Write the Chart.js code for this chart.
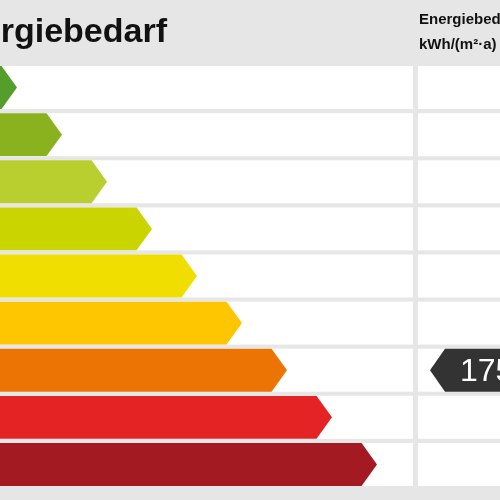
<!DOCTYPE html>
<html>
<head>
<meta charset="utf-8">
<script src="https://cdn.jsdelivr.net/npm/chart.js@4"></script>
<style>
  html, body { margin: 0; padding: 0; background: #e6e6e6; }
  #wrap { width: 500px; height: 500px; }
</style>
</head>
<body>
<div id="wrap"><canvas id="c" width="500" height="500"></canvas></div>
<script>
/* ================= DATA ================= */
const classes = ['A+', 'A', 'B', 'C', 'D', 'E', 'F', 'G', 'H'];
const arrowLengths = [17, 62, 107, 152, 197, 242, 287, 332, 377];
const classColors = ['#559e2b', '#8ab21f', '#b9cf30', '#c9d400', '#f0de00', '#fdc600', '#ec7405', '#e42424', '#a31a22'];
const markerClass = 'F';
const markerValue = '175';
const titleText = 'Energiebedarf';
const unitLines = ['Energiebedarf', 'kWh/(m²·a)'];

/* ================= PLUGIN ================= */
const labelPlugin = {
    id: 'energyLabel',
    beforeDraw(chart) {
        const ctx = chart.ctx;
        const yScale = chart.scales.y;
        const area = chart.chartArea;
        ctx.save();
        ctx.fillStyle = '#e6e6e6';
        ctx.fillRect(0, 0, chart.width, chart.height);
        ctx.fillStyle = '#ffffff';
        classes.forEach((c, i) => {
            const yc = yScale.getPixelForValue(i);
            ctx.fillRect(area.left, yc - 21.5, area.right - area.left, 43);
            ctx.fillRect(area.right + 5, yc - 21.5, chart.width - area.right - 5, 43);
        });
        // header texts
        ctx.fillStyle = '#111';
        ctx.font = 'bold 34px "Liberation Sans", Arial, sans-serif';
        ctx.textAlign = 'right';
        ctx.textBaseline = 'middle';
        ctx.fillText(titleText, 167, 33);
        ctx.textAlign = 'left';
        ctx.font = 'bold 15px "Liberation Sans", Arial, sans-serif';
        ctx.fillText(unitLines[0], 419, 20);
        ctx.fillText(unitLines[1], 419, 45);
        ctx.restore();
    },
    afterDatasetsDraw(chart) {
        const ctx = chart.ctx;
        const meta = chart.getDatasetMeta(0);
        ctx.save();
        meta.data.forEach((bar, i) => {
            const h = bar.height;
            const top = bar.y - h / 2;
            const tip = h / 2 * 0.72;
            ctx.fillStyle = classColors[i];
            ctx.beginPath();
            ctx.moveTo(bar.base - 10, top);
            ctx.lineTo(bar.x - tip, top);
            ctx.lineTo(bar.x, bar.y);
            ctx.lineTo(bar.x - tip, top + h);
            ctx.lineTo(bar.base - 10, top + h);
            ctx.closePath();
            ctx.fill();
        });
        // marker arrow
        const mi = classes.indexOf(markerClass);
        const yc = chart.scales.y.getPixelForValue(mi);
        const x0 = chart.chartArea.right + 17;
        ctx.fillStyle = '#333333';
        ctx.beginPath();
        ctx.moveTo(x0, yc);
        ctx.lineTo(x0 + 15, yc - 21.5);
        ctx.lineTo(chart.width + 10, yc - 21.5);
        ctx.lineTo(chart.width + 10, yc + 21.5);
        ctx.lineTo(x0 + 15, yc + 21.5);
        ctx.closePath();
        ctx.fill();
        ctx.fillStyle = '#ffffff';
        ctx.font = '32px "Liberation Sans", Arial, sans-serif';
        ctx.textAlign = 'left';
        ctx.textBaseline = 'middle';
        ctx.fillText(markerValue, x0 + 30, yc + 2);
        ctx.restore();
    }
};

/* ================= CHART ================= */
new Chart(document.getElementById('c'), {
    type: 'bar',
    data: {
        labels: classes,
        datasets: [{
            data: arrowLengths,
            backgroundColor: 'rgba(0,0,0,0)',
            categoryPercentage: 1,
            barPercentage: 0.91
        }]
    },
    options: {
        indexAxis: 'y',
        responsive: false,
        animation: false,
        layout: { padding: { top: 64, bottom: 12, left: 0, right: 87 } },
        plugins: { legend: { display: false }, tooltip: { enabled: false } },
        scales: {
            x: { display: false, min: 0, max: 413 },
            y: { display: false }
        }
    },
    plugins: [labelPlugin]
});
</script>
</body>
</html>
